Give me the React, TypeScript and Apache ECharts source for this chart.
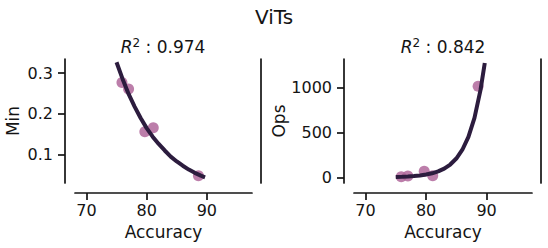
import React, { useEffect, useRef } from "react";
import * as echarts from "echarts";

const accuracy = [75.9, 77.0, 79.7, 81.1, 88.6];
const minValues = [0.277, 0.261, 0.156, 0.166, 0.048];
const opsValues = [7, 14, 68, 18, 1015];

const fitX = [75, 76, 77, 78, 79, 80, 81, 82, 83, 84, 85, 86, 87, 88, 89, 89.7];
const minFit = [0.327, 0.286, 0.249, 0.218, 0.19, 0.165, 0.144, 0.126, 0.11, 0.095, 0.083, 0.0725, 0.063, 0.055, 0.048, 0.044];
const opsFit = [4.5, 6.6, 9.7, 14.3, 21, 31, 45, 66, 97, 143, 210, 308, 452, 664, 975, 1275];

const xTicks = [70, 80, 90];
const minTicks = [0.1, 0.2, 0.3];
const opsTicks = [0, 500, 1000];

const titleText = "ViTs";
const r2Left = "0.974";
const r2Right = "0.842";

const INK = "#141414";
const FONT = "DejaVu Sans";

export default function App() {
  const ref = useRef<HTMLDivElement>(null);
  useEffect(() => {
    if (!ref.current) return;
    const chart = echarts.init(ref.current, undefined, { renderer: "svg" });
    const axisLine = { show: true, onZero: false, lineStyle: { color: INK, width: 1.7 } };
    const axisTick = (vals: number[]) => ({
      show: true,
      length: 7,
      customValues: vals,
      lineStyle: { color: INK, width: 1.7 },
    });
    const fmt = (v: number) => String(v);
    const xAxis = (gi: number) => ({
      type: "value",
      gridIndex: gi,
      min: 68.1,
      max: 97.5,
      offset: 10,
      axisLine,
      axisTick: axisTick(xTicks),
      axisLabel: { customValues: xTicks, formatter: fmt, fontSize: 16, color: INK, margin: 9, fontFamily: FONT },
      splitLine: { show: false },
      name: "Accuracy",
      nameLocation: "middle",
      nameGap: 30,
      nameTextStyle: { fontSize: 17, color: INK, fontFamily: FONT },
    });
    const yAxis = (gi: number, min: number, max: number, ticks: number[], name: string, gap: number) => ({
      type: "value",
      gridIndex: gi,
      position: "left",
      min,
      max,
      offset: 10,
      axisLine,
      axisTick: axisTick(ticks),
      axisLabel: { customValues: ticks, formatter: fmt, fontSize: 16, color: INK, margin: 12, fontFamily: FONT },
      splitLine: { show: false },
      name,
      nameLocation: "middle",
      nameGap: gap,
      nameRotate: 90,
      nameTextStyle: { fontSize: 17, color: INK, fontFamily: FONT },
    });
    const rightSpine = (gi: number) => ({
      type: "value",
      gridIndex: gi,
      position: "right",
      min: 0,
      max: 1,
      offset: 9,
      axisLine,
      axisTick: { show: false },
      axisLabel: { show: false },
      splitLine: { show: false },
    });
    const r2 = (x: number, v: string) => ({
      type: "text",
      x,
      y: 47,
      style: {
        text: `{i|R}{s|2}{n| : ${v}}`,
        align: "center",
        verticalAlign: "middle",
        fill: INK,
        rich: {
          i: { fontSize: 17, fontStyle: "italic", fontFamily: FONT, fill: INK, lineHeight: 20 },
          s: { fontSize: 12, fontFamily: FONT, fill: INK, verticalAlign: "top", lineHeight: 20 },
          n: { fontSize: 17, fontFamily: FONT, fill: INK, lineHeight: 20 },
        },
      },
    });
    const pts = (ys: number[]) => accuracy.map((a, i) => [a, ys[i]]);
    const fit = (ys: number[]) => fitX.map((a, i) => [a, ys[i]]);
    chart.setOption({
      animation: false,
      textStyle: { fontFamily: FONT },
      grid: [
        { left: 75, top: 59, width: 177, height: 124 },
        { left: 354, top: 59, width: 178, height: 124 },
      ],
      xAxis: [xAxis(0), xAxis(1)],
      yAxis: [
        yAxis(0, 0.03, 0.335, minTicks, "Min", 44),
        rightSpine(0),
        yAxis(1, -63, 1320, opsTicks, "Ops", 56),
        rightSpine(1),
      ],
      graphic: [
        {
          type: "text",
          x: 274,
          y: 17,
          style: { text: titleText, align: "center", verticalAlign: "middle", fontSize: 20, fontFamily: FONT, fill: INK },
        },
        r2(163, r2Left),
        r2(443, r2Right),
      ],
      series: [
        {
          type: "scatter",
          xAxisIndex: 0,
          yAxisIndex: 0,
          data: pts(minValues),
          symbolSize: 11,
          itemStyle: { color: "#b0679b", opacity: 0.85 },
          z: 2,
        },
        {
          type: "line",
          xAxisIndex: 0,
          yAxisIndex: 0,
          data: fit(minFit),
          showSymbol: false,
          lineStyle: { color: "#2c1c3e", width: 4 },
          z: 3,
        },
        {
          type: "scatter",
          xAxisIndex: 1,
          yAxisIndex: 2,
          data: pts(opsValues),
          symbolSize: 11,
          itemStyle: { color: "#b0679b", opacity: 0.85 },
          z: 2,
        },
        {
          type: "line",
          xAxisIndex: 1,
          yAxisIndex: 2,
          data: fit(opsFit),
          showSymbol: false,
          lineStyle: { color: "#2c1c3e", width: 4 },
          z: 3,
        },
      ],
    });
    return () => chart.dispose();
  }, []);
  return <div ref={ref} style={{ width: 548, height: 248, position: "absolute", left: 0, top: 0 }} />;
}
